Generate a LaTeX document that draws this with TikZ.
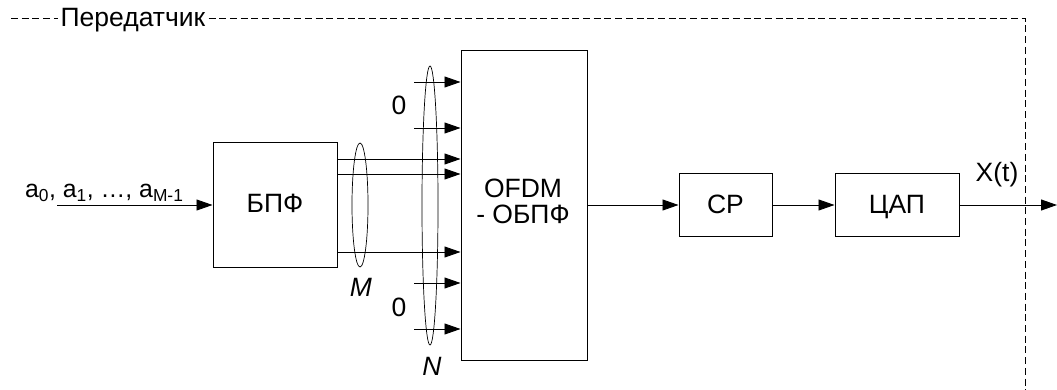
\documentclass[tikz,border=0pt]{standalone}
\usepackage{fontspec}
\setmainfont{Liberation Sans}
\usetikzlibrary{arrows.meta}
\begin{document}
\begin{tikzpicture}[x=1pt,y=-1pt,
  txt/.style={font=\fontsize{26.5}{31}\selectfont, inner sep=0pt},
  itxt/.style={font=\fontsize{26.5}{31}\selectfont\itshape, inner sep=0pt},
  blk/.style={draw, line width=1pt, inner sep=0pt},
  arr/.style={line width=0.9pt, -{Triangle[length=16pt,width=11pt]}},
  frm/.style={line width=0.7pt, dash pattern=on 7pt off 3.7pt},
  bund/.style={line width=0.7pt}]
\useasboundingbox (0,0) rectangle (1057,390);
% frame
\node[txt, anchor=base] (title) at (133,27) {Передатчик};
\coordinate (fl) at (11,18);
\coordinate (ftr) at (1025,18);
\coordinate (fbr) at (1025,390);
\draw[frm] (fl) -- ([xshift=-2pt]fl -| title.west);
\draw[frm] ([xshift=3pt]title.east |- fl) -- (ftr) -- (fbr);
% blocks
\node[blk, minimum width=124pt, minimum height=124pt] (bpf) at (275,205) {};
\node[txt, anchor=base] (bpft) at (275,213) {БПФ};
\node[blk, minimum width=126pt, minimum height=309pt] (ofdm) at (524,205.5) {};
\node[txt, anchor=base] (t1) at (523,197) {OFDM};
\node[txt, anchor=base] (t2) at (523,223) {- ОБПФ};
\node[blk, minimum width=93pt, minimum height=62pt] (cp) at (725.5,205) {};
\node[txt, anchor=base] (cpt) at (725.5,214) {CP};
\node[blk, minimum width=124pt, minimum height=62pt] (dac) at (897,205) {};
\node[txt, anchor=base] (dact) at (897,214) {ЦАП};
% input
\coordinate (in) at (57,205);
\draw[arr] (in) -- (bpf.west |- in);
\node[inner sep=0pt, font=\fontsize{24.8}{29}\selectfont, anchor=base west] (alab) at (25,198) {a\textsubscript{0}, a\textsubscript{1}, …, a\textsubscript{M-1}};
% BPF outputs
\coordinate (o1) at (337,159);
\coordinate (o2) at (337,174);
\coordinate (o3) at (337,252);
\draw[arr] (bpf.east |- o1) -- (ofdm.west |- o1);
\draw[arr] (bpf.east |- o2) -- (ofdm.west |- o2);
\draw[arr] (bpf.east |- o3) -- (ofdm.west |- o3);
% zero inputs
\coordinate (z1) at (414,82);
\coordinate (z2) at (414,128);
\coordinate (z3) at (414,283);
\coordinate (z4) at (414,329);
\draw[arr] (z1) -- (ofdm.west |- z1);
\draw[arr] (z2) -- (ofdm.west |- z2);
\draw[arr] (z3) -- (ofdm.west |- z3);
\draw[arr] (z4) -- (ofdm.west |- z4);
\node[txt] (zero1) at (399,105) {0};
\node[txt] (zero2) at (399,307) {0};
% bundles
\draw[bund] (360,205) ellipse [x radius=8, y radius=62];
\draw[bund] (430,205.5) ellipse [x radius=8, y radius=139.5];
\node[itxt] (mlab) at (361,287) {M};
\node[itxt] (nlab) at (432,366) {N};
% chain
\draw[arr] (ofdm.east |- cp) -- (cp.west);
\draw[arr] (cp.east) -- (dac.west);
\coordinate (out) at (1057,205);
\draw[arr] (dac.east) -- (out);
\node[txt, anchor=base] (xlab) at (997,182) {X(t)};
\end{tikzpicture}
\end{document}
